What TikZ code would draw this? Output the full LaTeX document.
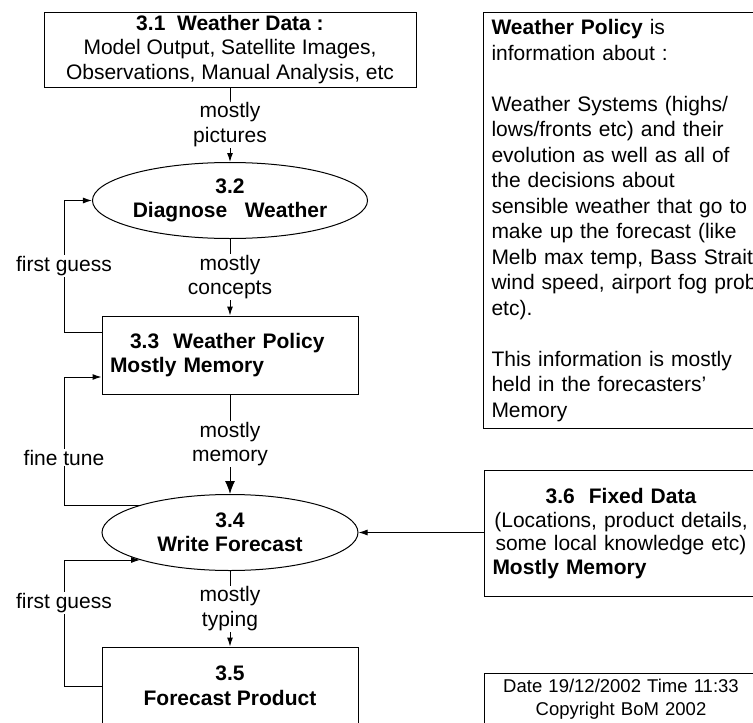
\documentclass[tikz,border=0pt]{standalone}
\usepackage{fontspec}
\setmainfont{Liberation Sans}
\usetikzlibrary{shapes.geometric}
\usetikzlibrary{arrows.meta}
\usetikzlibrary{positioning}

\newcommand{\wxfont}{\fontsize{21pt}{24.5pt}\selectfont}
\newcommand{\wxsmall}{\fontsize{18.5pt}{23pt}\selectfont}

\begin{document}
\begin{tikzpicture}[x=1pt, y=-1pt, line width=1pt,
  procbox/.style={draw, rectangle, font=\wxfont, align=center, inner sep=0pt},
  proc/.style={draw, ellipse, minimum width=256pt, minimum height=76pt, inner sep=0pt, font=\wxfont\bfseries, align=center},
  notebox/.style={draw, rectangle, anchor=north west, minimum width=273pt, inner xsep=8pt, inner ysep=0pt},
  flowlbl/.style={fill=white, font=\wxfont, align=center, inner sep=1pt},
  arr/.style={-{Latex[length=9pt,width=6pt]}},
  bigarr/.style={-{Latex[length=13pt,width=10pt]}}]
  \useasboundingbox (0,0) rectangle (753,723);
  \fill[white] (0,0) rectangle (753,723);

  % ===== Processes and stores =====
  \node[procbox, minimum width=372pt, minimum height=75pt] (wdata) at (230,49.5)
    {\textbf{3.1\ \ Weather Data :}\\Model Output, Satellite Images,\\Observations, Manual Analysis, etc};
  \node[proc] (diag) at (230,200.5) {3.2\\Diagnose\ \ \ Weather};
  \node[procbox, font=\wxfont\bfseries, minimum width=256pt, minimum height=78pt, text width=240pt, align=left] (policy) at (230,355)
    {\hspace*{20pt}3.3\ \ Weather Policy\\Mostly Memory};
  \node[proc] (write) at (230,532.5) {3.4\\Write Forecast};
  \node[procbox, font=\wxfont\bfseries, minimum width=256pt, minimum height=78pt] (product) at (230,686) {3.5\\Forecast Product};

  % ===== Notes on the right =====
  \node[notebox, text width=275pt, minimum height=416pt, align=left, font=\fontsize{21pt}{25.5pt}\selectfont] (note) at (483,12)
    {\textbf{Weather Policy} is\\
     information about :\\[25.5pt]
     Weather Systems (highs/\\
     lows/fronts etc) and their\\
     evolution as well as all of\\
     the decisions about\\
     sensible weather that go to\\
     make up the forecast (like\\
     Melb max temp, Bass Strait\\
     wind speed, airport fog prob\\
     etc).\\[25.5pt]
     This information is mostly\\
     held in the forecasters'\\
     Memory};
  \node[notebox, text width=257pt, minimum height=126pt, align=center, font=\fontsize{21pt}{23.5pt}\selectfont] (fixed) at (484,470)
    {\textbf{3.6\ \ Fixed Data}\\
     (Locations, product details,\\
     some local knowledge etc)\\
     \makebox[257pt][l]{\textbf{Mostly Memory}}};
  \node[notebox, text width=257pt, minimum height=52pt, align=center, font=\wxsmall] (stamp) at (484,673)
    {Date 19/12/2002 Time 11:33\\Copyright BoM 2002};

  % ===== Main flow =====
  \draw[arr] (wdata) -- node[flowlbl] (lpic) {mostly\\pictures} (diag);
  \draw[arr] (diag) -- node[flowlbl] (lcon) {mostly\\concepts} (policy);
  \draw[bigarr] (policy) -- node[flowlbl] (lmem) {mostly\\memory} (write);
  \draw[arr] (write) -- node[flowlbl] (ltyp) {mostly\\typing} (product);
  \draw[arr] (fixed.west |- write.east) -- (write.east);

  % ===== Feedback loops =====
  \coordinate (loopx) at (64,0);
  \coordinate (fgtop) at (64,332);
  \coordinate (ftcorner) at (64,377);
  \draw[arr] (policy.west |- fgtop) -- (fgtop) -- node[flowlbl] (lfgtop) {first guess} (fgtop |- diag.west) -- (diag.west);
  \draw[arr] (write.163) -- (write.163 -| ftcorner) -- node[flowlbl, pos=0.37] (lfine) {fine tune} (ftcorner) -- (policy.west |- ftcorner);
  \draw[arr] (product.west) -- (product.west -| loopx) -- node[flowlbl, pos=0.66] (lfgbot) {first guess} (write.197 -| loopx) -- (write.197);
\end{tikzpicture}
\end{document}
